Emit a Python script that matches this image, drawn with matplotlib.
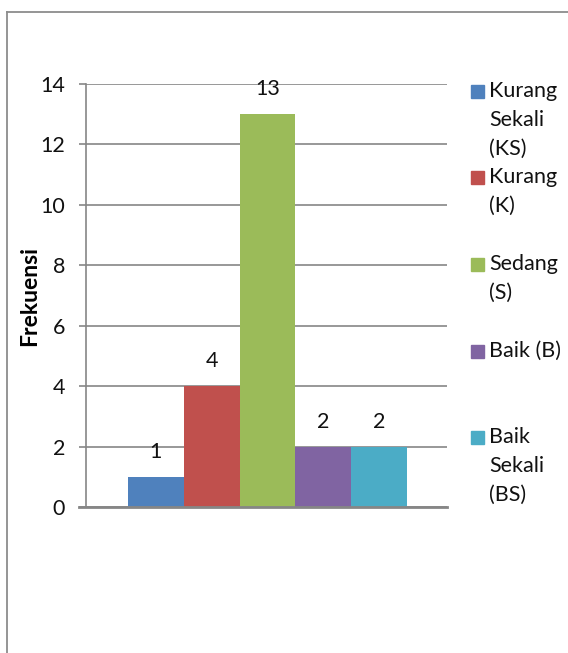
import matplotlib.pyplot as plt
from matplotlib.patches import Rectangle
from matplotlib.lines import Line2D

# data
categories = ["Kurang\nSekali\n(KS)", "Kurang\n(K)", "Sedang\n(S)", "Baik (B)", "Baik\nSekali\n(BS)"]
frekuensi = [1, 4, 13, 2, 2]
colors = ["#4F81BD", "#C0504D", "#9BBB59", "#8064A2", "#4BACC6"]

plt.rcParams['font.family'] = ['Lato', 'DejaVu Sans']
grid_c = "#868686"
txt_c = "#111111"

fig = plt.figure(figsize=(5.68, 6.53), dpi=100)
W, H = 568, 653

# chart frame (left and top border visible)
fig.add_artist(Line2D([7 / W, 7 / W], [0, 1 - 12 / H], color="#8c8c8c", lw=1.3, transform=fig.transFigure))
fig.add_artist(Line2D([7 / W, 1], [1 - 12 / H, 1 - 12 / H], color="#8c8c8c", lw=1.3, transform=fig.transFigure))

ax = fig.add_axes([86 / W, 1 - 507 / H, (447 - 86) / W, (507 - 84) / H])
x = range(len(frekuensi))
bars = ax.bar(x, frekuensi, width=1.0, color=colors, zorder=3)
for xi, v in zip(x, frekuensi):
    ax.annotate(str(v), (xi, v), xytext=(0, 18), textcoords="offset points",
                ha="center", va="center", fontsize=15.5, color=txt_c)

ax.set_xlim(-0.5 - 42 / 55.8, len(frekuensi) - 0.5 + 40 / 55.8)
ax.set_ylim(0, 14)
ax.set_yticks(range(0, 15, 2))
ax.set_xticks([])
ax.yaxis.grid(True, color=grid_c, lw=1.2, zorder=0)
ax.tick_params(axis="y", length=5, width=1.2, color=grid_c, pad=10, labelsize=15.5, labelcolor=txt_c)
for s in ["top", "right"]:
    ax.spines[s].set_visible(False)
ax.spines["left"].set_color(grid_c)
ax.spines["left"].set_linewidth(1.2)
ax.spines["bottom"].set_color(grid_c)
ax.spines["bottom"].set_linewidth(2)
ax.spines["bottom"].set_bounds(-0.5 - 49 / 55.8, len(frekuensi) - 0.5 + 40 / 55.8)
ax.spines["bottom"].set_zorder(4)
ax.set_ylabel("Frekuensi", fontsize=16.5, fontweight="bold", labelpad=0)

# legend drawn at the right, marker aligned with the first text line
leg_y = [91, 177, 264, 351, 437]
line_h = 29
for lab, c, yc in zip(categories, colors, leg_y):
    fig.add_artist(Rectangle((471 / W, 1 - (yc + 6.5) / H), 13 / W, 13 / H, color=c,
                             transform=fig.transFigure))
    for i, part in enumerate(lab.split("\n")):
        fig.text(489 / W, 1 - (yc + i * line_h) / H, part, fontsize=15.5, va="center",
                 ha="left", color=txt_c)

fig.savefig("out.png", dpi=100)
